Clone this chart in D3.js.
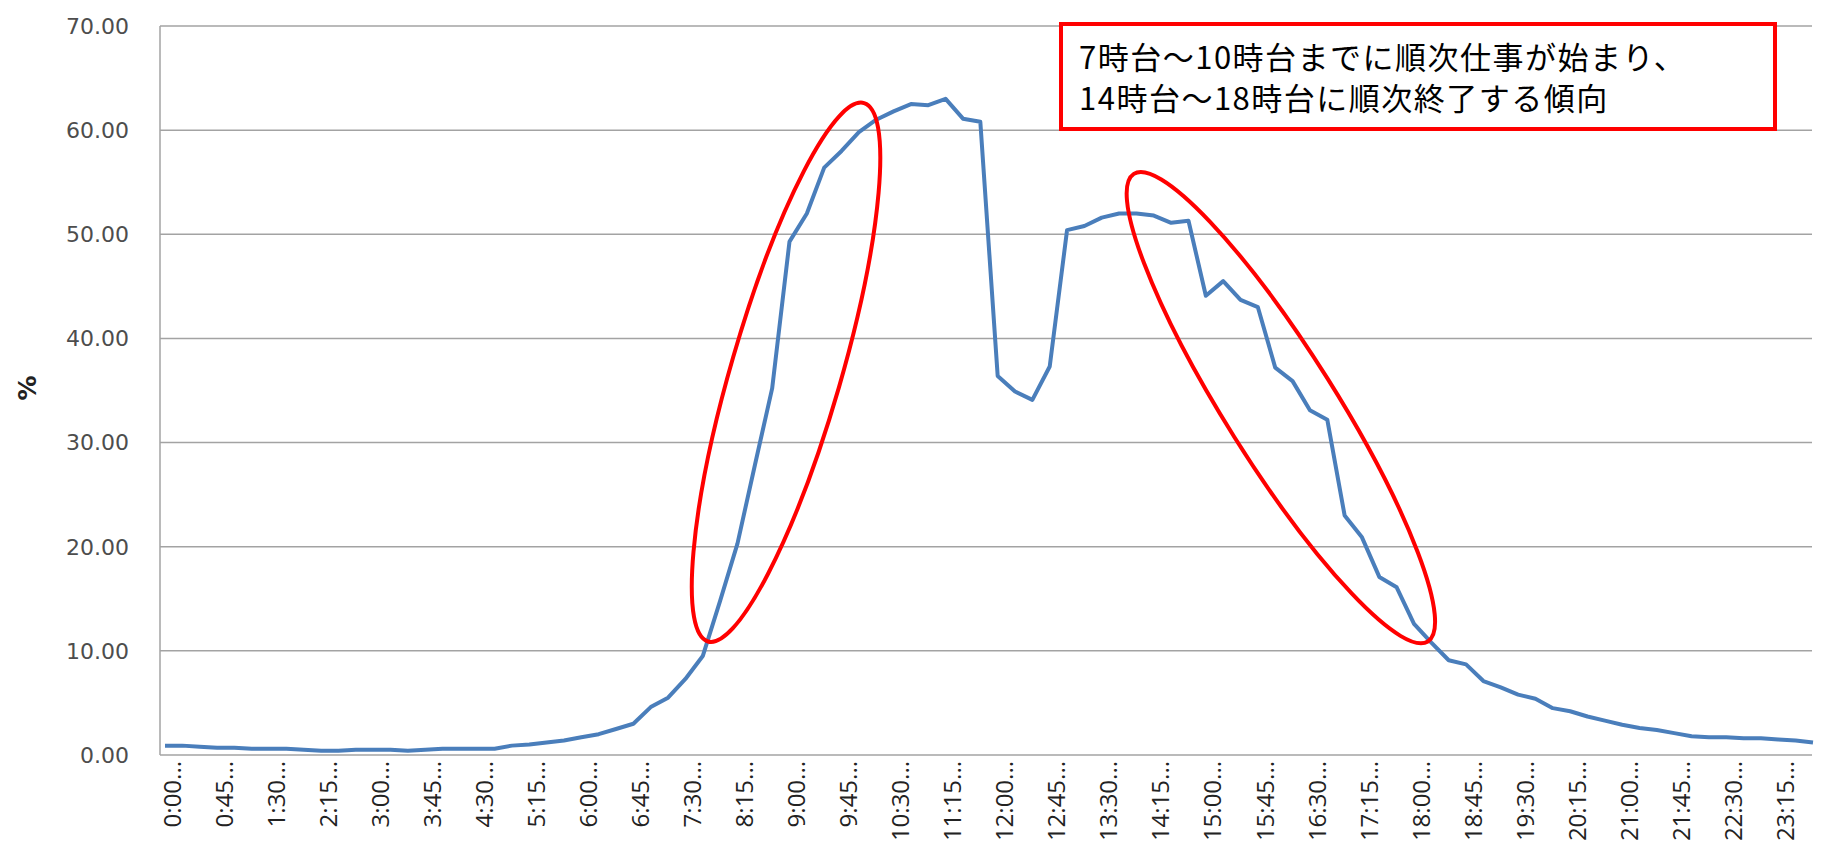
<!DOCTYPE html>
<head>
    <meta charset="utf-8">
    <title>time-of-day line</title>
    <style>
        body { margin: 0; background: #fff; }
        svg { display: block; }
    </style>
</head>

<body>

<svg width="1843" height="855"></svg>

<script src="https://d3js.org/d3.v7.min.js"></script>

<script>

    // 15 minute slots across the day
    var categories = [
        "0:00","0:15","0:30","0:45","1:00","1:15","1:30","1:45",
        "2:00","2:15","2:30","2:45","3:00","3:15","3:30","3:45",
        "4:00","4:15","4:30","4:45","5:00","5:15","5:30","5:45",
        "6:00","6:15","6:30","6:45","7:00","7:15","7:30","7:45",
        "8:00","8:15","8:30","8:45","9:00","9:15","9:30","9:45",
        "10:00","10:15","10:30","10:45","11:00","11:15","11:30","11:45",
        "12:00","12:15","12:30","12:45","13:00","13:15","13:30","13:45",
        "14:00","14:15","14:30","14:45","15:00","15:15","15:30","15:45",
        "16:00","16:15","16:30","16:45","17:00","17:15","17:30","17:45",
        "18:00","18:15","18:30","18:45","19:00","19:15","19:30","19:45",
        "20:00","20:15","20:30","20:45","21:00","21:15","21:30","21:45",
        "22:00","22:15","22:30","22:45","23:00","23:15","23:30","23:45"
    ];

    // percent
    var values = [
        0.9, 0.9, 0.8, 0.7, 0.7, 0.6, 0.6, 0.6,
        0.5, 0.4, 0.4, 0.5, 0.5, 0.5, 0.4, 0.5,
        0.6, 0.6, 0.6, 0.6, 0.9, 1.0, 1.2, 1.4,
        1.7, 2.0, 2.5, 3.0, 4.6, 5.5, 7.3, 9.5,
        14.8, 20.3, 27.8, 35.2, 49.3, 52.0, 56.4, 58.0,
        59.8, 61.0, 61.8, 62.5, 62.4, 63.0, 61.1, 60.8,
        36.4, 34.9, 34.1, 37.3, 50.4, 50.8, 51.6, 52.0,
        52.0, 51.8, 51.1, 51.3, 44.1, 45.5, 43.7, 43.0,
        37.2, 35.9, 33.1, 32.2, 23.0, 20.9, 17.1, 16.1,
        12.6, 10.8, 9.1, 8.7, 7.1, 6.5, 5.8, 5.4,
        4.5, 4.2, 3.7, 3.3, 2.9, 2.6, 2.4, 2.1,
        1.8, 1.7, 1.7, 1.6, 1.6, 1.5, 1.4, 1.2
    ];

    // only every third slot gets a (truncated) label
    var tickCategories = [
        "0:00","0:45","1:30","2:15","3:00","3:45","4:30","5:15",
        "6:00","6:45","7:30","8:15","9:00","9:45","10:30","11:15",
        "12:00","12:45","13:30","14:15","15:00","15:45","16:30","17:15",
        "18:00","18:45","19:30","20:15","21:00","21:45","22:30","23:15"
    ];

    var yTicks = [0, 10, 20, 30, 40, 50, 60, 70];

    var noteLines = [
        "7時台～10時台までに順次仕事が始まり、",
        "14時台～18時台に順次終了する傾向"
    ];

    // ellipse annotations: ends of the long axis as [slot index, percent]
    var rings = [
        {from: [31.3, 10.9], to: [40.3, 62.6]},
        {from: [55.85, 55.8], to: [72.8, 10.9]}
    ];

    var svg = d3.select("svg"),
        plot = {left: 160, right: 1812, top: 26, bottom: 755};

    var x = d3.scalePoint().domain(categories).range([165, 1813]),
        y = d3.scaleLinear().domain([0, 70]).range([plot.bottom, plot.top]);

    // fractional slot -> pixel (for the annotation ellipses)
    function xAt(i) { return x(categories[0]) + i * x.step(); }

    // gridlines
    svg.append("g")
        .selectAll("line")
        .data(yTicks)
        .enter().append("line")
        .attr("x1", plot.left)
        .attr("x2", plot.right)
        .attr("y1", function(d) { return y(d); })
        .attr("y2", function(d) { return y(d); })
        .style("stroke", "#a3a3a3")
        .style("stroke-width", 1.5);

    // left frame line
    svg.append("line")
        .attr("x1", plot.left).attr("x2", plot.left)
        .attr("y1", plot.top).attr("y2", plot.bottom)
        .style("stroke", "#a3a3a3")
        .style("stroke-width", 1.5);

    // y axis labels
    svg.append("g")
        .selectAll("text")
        .data(yTicks)
        .enter().append("text")
        .attr("x", 129)
        .attr("y", function(d) { return y(d); })
        .attr("dy", "0.36em")
        .style("text-anchor", "end")
        .style("font", "22px 'DejaVu Sans'")
        .style("fill", "#4d4d4d")
        .text(function(d) { return d3.format(".2f")(d); });

    svg.append("text")
        .attr("transform", "translate(27,388) rotate(-90)")
        .attr("dy", "0.36em")
        .style("text-anchor", "middle")
        .style("font", "bold 25px 'DejaVu Sans'")
        .style("fill", "#222")
        .text("%");

    // x axis labels, rotated
    svg.append("g")
        .selectAll("text")
        .data(tickCategories)
        .enter().append("text")
        .attr("transform", function(d) { return "translate(" + (x(d) + 7) + "," + (plot.bottom + 6) + ") rotate(-90)"; })
        .attr("dy", "0.36em")
        .style("text-anchor", "end")
        .style("font", "24px 'Open Sans'")
        .style("fill", "#222")
        .text(function(d) { return d + "..."; });

    // the series
    var line = d3.line()
        .x(function(d, i) { return x(categories[i]); })
        .y(function(d) { return y(d); });

    svg.append("path")
        .datum(values)
        .attr("d", line)
        .style("fill", "none")
        .style("stroke", "#4a7ebb")
        .style("stroke-width", 4)
        .style("stroke-linejoin", "round");

    // red ellipses
    svg.append("g")
        .selectAll("ellipse")
        .data(rings)
        .enter().append("ellipse")
        .each(function(d) {
            var x1 = xAt(d.from[0]), y1 = y(d.from[1]),
                x2 = xAt(d.to[0]), y2 = y(d.to[1]);
            var len = Math.sqrt((x2 - x1) * (x2 - x1) + (y2 - y1) * (y2 - y1));
            var ang = Math.atan2(x2 - x1, y1 - y2) * 180 / Math.PI;
            d3.select(this)
                .attr("transform", "translate(" + ((x1 + x2) / 2) + "," + ((y1 + y2) / 2) + ") rotate(" + ang + ")")
                .attr("rx", 55)
                .attr("ry", len / 2);
        })
        .style("fill", "none")
        .style("stroke", "#ff0000")
        .style("stroke-width", 4);

    // note box
    svg.append("rect")
        .attr("x", 1061).attr("y", 24)
        .attr("width", 714).attr("height", 105)
        .style("fill", "#fff")
        .style("stroke", "#ff0000")
        .style("stroke-width", 4);

    svg.append("g")
        .selectAll("text")
        .data(noteLines)
        .enter().append("text")
        .attr("x", 1079)
        .attr("y", function(d, i) { return 69 + i * 41; })
        .style("font", "31px 'Noto Sans CJK JP'")
        .style("letter-spacing", "1.5px")
        .style("fill", "#000")
        .text(function(d) { return d; });

</script>

</body>
